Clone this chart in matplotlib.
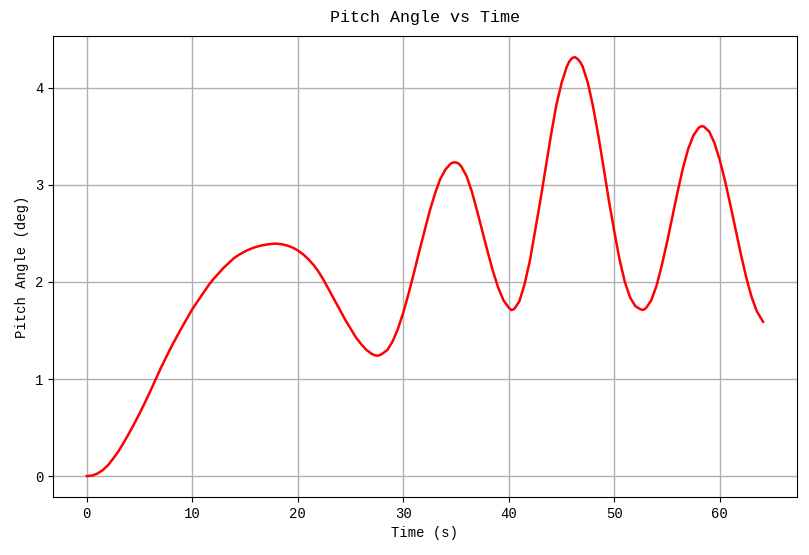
import matplotlib
matplotlib.use("Agg")
import matplotlib.pyplot as plt
import numpy as np

# values
time_s = [0, 0.5, 1, 1.5, 2, 2.5, 3, 3.5, 4, 4.5, 5, 5.5, 6, 6.5, 7, 7.5, 8, 8.5,
          9, 9.5, 10, 10.5, 11, 11.5, 12, 12.5, 13, 13.5, 14, 14.5, 15, 15.5, 16,
          16.5, 17, 17.5, 18, 18.5, 19, 19.5, 20, 20.5, 21, 21.5, 22, 22.5, 23,
          23.5, 24, 24.5, 25, 25.5, 26, 26.5, 27, 27.25, 27.5, 27.75, 28, 28.5,
          29, 29.5, 30, 30.5, 31, 31.5, 32, 32.5, 33, 33.5, 34, 34.5, 34.75, 35,
          35.25, 35.5, 36, 36.5, 37, 37.5, 38, 38.5, 39, 39.5, 40, 40.25, 40.5,
          41, 41.5, 42, 42.5, 43, 43.5, 44, 44.5, 45, 45.5, 45.75, 46, 46.25, 46.5,
          46.75, 47, 47.5, 48, 48.5, 49, 49.5, 50, 50.5, 51, 51.5, 52, 52.5, 52.75,
          53, 53.5, 54, 54.5, 55, 55.5, 56, 56.5, 57, 57.5, 58, 58.3, 58.5, 59,
          59.5, 60, 60.5, 61, 61.5, 62, 62.5, 63, 63.5, 64.1]
pitch_deg = [0.0, 0.005, 0.025, 0.06, 0.11, 0.18, 0.255, 0.345, 0.44, 0.54, 0.645,
             0.755, 0.87, 0.99, 1.11, 1.22, 1.33, 1.43, 1.53, 1.625, 1.72, 1.80,
             1.88, 1.96, 2.03, 2.09, 2.15, 2.20, 2.25, 2.285, 2.315, 2.34, 2.36,
             2.375, 2.385, 2.392, 2.395, 2.388, 2.375, 2.355, 2.325, 2.285, 2.235,
             2.175, 2.10, 2.01, 1.91, 1.81, 1.71, 1.61, 1.52, 1.43, 1.36, 1.30, 1.26,
             1.247, 1.24, 1.245, 1.26, 1.30, 1.39, 1.52, 1.685, 1.88, 2.09, 2.31,
             2.52, 2.73, 2.91, 3.06, 3.16, 3.22, 3.232, 3.232, 3.22, 3.19, 3.09,
             2.93, 2.73, 2.52, 2.31, 2.11, 1.94, 1.81, 1.735, 1.71, 1.72, 1.80,
             1.98, 2.22, 2.53, 2.845, 3.18, 3.515, 3.82, 4.05, 4.22, 4.275, 4.307,
             4.318, 4.30, 4.27, 4.22, 4.05, 3.80, 3.50, 3.17, 2.83, 2.52, 2.23,
             2.00, 1.84, 1.75, 1.717, 1.712, 1.73, 1.81, 1.96, 2.17, 2.41, 2.67,
             2.93, 3.17, 3.37, 3.51, 3.59, 3.607, 3.60, 3.55, 3.43, 3.255, 3.04,
             2.795, 2.54, 2.285, 2.05, 1.85, 1.70, 1.59]

plt.rcParams['font.family'] = ['Liberation Mono', 'DejaVu Sans Mono']

fig, ax = plt.subplots(figsize=(8.09, 5.55), dpi=100)
fig.subplots_adjust(left=0.0655, right=0.985, top=0.935, bottom=0.1045)

ax.plot(time_s, pitch_deg, color='red', linewidth=1.8)
ax.grid(True, color='#b0b0b0', linewidth=1)
ax.set_title("Pitch Angle vs Time", fontsize=12, pad=10)
ax.set_xlabel("Time (s)", fontsize=10)
ax.set_ylabel("Pitch Angle (deg)", fontsize=10)
ax.tick_params(labelsize=10)

fig.savefig("out.png", dpi=100)
